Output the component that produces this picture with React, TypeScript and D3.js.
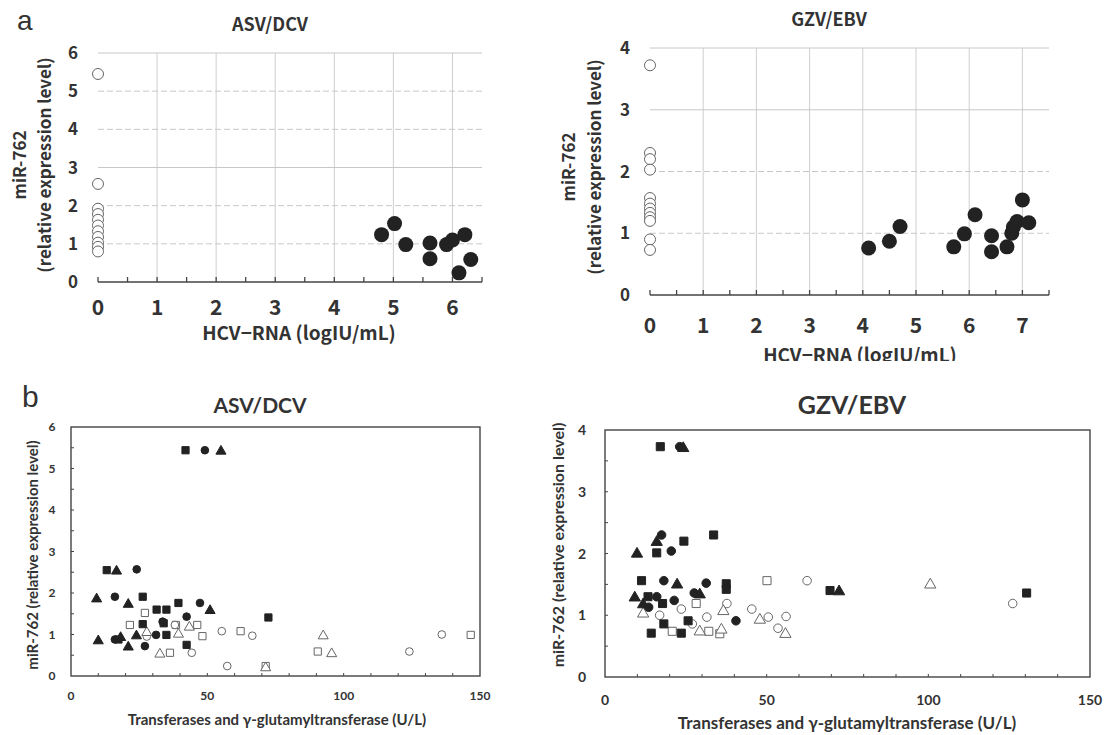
import React from "react";
import * as d3 from "d3";

// ---------- Panel a data ----------
const aTicksLeftX = [0, 1, 2, 3, 4, 5, 6];
const aTicksLeftY = [0, 1, 2, 3, 4, 5, 6];
const aTicksRightX = [0, 1, 2, 3, 4, 5, 6, 7];
const aTicksRightY = [0, 1, 2, 3, 4];

const aLeftAfterY = [5.45, 2.57, 1.92, 1.78, 1.63, 1.48, 1.33, 1.18, 1.03, 0.92, 0.8];
const aLeftBeforeX = [4.8, 5.02, 5.21, 5.62, 5.62, 5.9, 6.0, 6.21, 6.11, 6.31];
const aLeftBeforeY = [1.24, 1.53, 0.98, 1.02, 0.61, 0.98, 1.1, 1.24, 0.24, 0.59];

const aRightAfterY = [3.72, 2.3, 2.2, 2.03, 1.57, 1.48, 1.4, 1.33, 1.26, 1.2, 0.9, 0.73];
const aRightBeforeX = [4.11, 4.5, 4.7, 5.71, 5.91, 6.11, 6.42, 6.42, 6.71, 6.8, 6.83, 6.9, 7.0, 7.12];
const aRightBeforeY = [0.76, 0.87, 1.11, 0.78, 0.99, 1.3, 0.96, 0.7, 0.78, 1.0, 1.1, 1.19, 1.54, 1.17];

// ---------- Panel b data ----------
const bTicksX = [0, 50, 100, 150];
const bTicksLeftY = [0, 1, 2, 3, 4, 5, 6];
const bTicksRightY = [0, 1, 2, 3, 4];

// ASV/DCV
const bL_fSquare: [number, number][] = [
  [42, 5.44], [13.1, 2.55], [26.3, 1.91], [39.4, 1.76], [31.4, 1.6], [35, 1.6],
  [26.3, 1.25], [35, 0.99], [42.4, 0.75], [72.4, 1.41], [17.4, 0.88], [34, 1.27],
];
const bL_fCircle: [number, number][] = [
  [49.1, 5.44], [24.1, 2.57], [16.1, 1.91], [47.3, 1.76], [42.4, 1.43], [33.6, 1.31],
  [31.2, 0.99], [27.1, 0.72], [16.1, 0.88],
];
const bL_fTriangle: [number, number][] = [
  [55, 5.44], [16.7, 2.55], [9.4, 1.88], [21, 1.75], [51, 1.6], [10, 0.87],
  [21, 0.72], [24, 0.99], [18.2, 0.95],
];
const bL_oSquare: [number, number][] = [
  [27.1, 1.52], [21.6, 1.23], [38.5, 1.23], [46.3, 1.23], [48.2, 0.96], [62.2, 1.08],
  [36.3, 0.56], [90.5, 0.59], [146.6, 0.99], [71.4, 0.24],
];
const bL_oCircle: [number, number][] = [
  [55.3, 1.08], [66.5, 0.97], [44.3, 0.56], [57.3, 0.24], [124.1, 0.59], [136, 1.0],
  [38.1, 1.23], [27.8, 0.95],
];
const bL_oTriangle: [number, number][] = [
  [32.6, 0.55], [39.4, 1.03], [43.4, 1.2], [92.5, 0.99], [95.6, 0.56], [71.4, 0.22],
  [27.8, 1.07],
];

// GZV/EBV
const bR_fSquare: [number, number][] = [
  [17.1, 3.73], [33.6, 2.3], [24.4, 2.2], [16, 2.01], [11.3, 1.56], [37.5, 1.51],
  [37.5, 1.42], [69.6, 1.4], [130.4, 1.36], [14.3, 0.71], [23.6, 0.71], [18.2, 0.86],
  [25.7, 0.91], [13.3, 1.3], [17.8, 1.19],
];
const bR_fCircle: [number, number][] = [
  [23.1, 3.73], [17.5, 2.3], [20.5, 2.04], [18.2, 1.56], [31.3, 1.52], [27.6, 1.36],
  [40.5, 0.91], [16, 1.3], [21.4, 1.24], [13.5, 1.13],
];
const bR_fTriangle: [number, number][] = [
  [24.2, 3.72], [16, 2.2], [9.9, 2.01], [22.3, 1.51], [72.4, 1.4], [9.2, 1.3],
  [29.3, 1.35], [11.8, 1.19],
];
const bR_oSquare: [number, number][] = [
  [50.1, 1.56], [32.1, 0.74], [35.5, 0.7], [28.2, 1.19], [20.8, 0.74],
];
const bR_oCircle: [number, number][] = [
  [62.5, 1.56], [126.1, 1.19], [45.4, 1.1], [50.5, 0.97], [56, 0.98], [53.5, 0.79],
  [23.6, 1.1], [31.5, 0.97], [37.7, 1.19], [27, 0.86], [16.9, 1.0],
];
const bR_oTriangle: [number, number][] = [
  [100.6, 1.51], [47.9, 0.94], [55.8, 0.71], [11.8, 1.04], [29.3, 0.75], [36.6, 1.08],
  [36, 0.78],
];

const FONT_A = "'Noto Sans CJK JP', 'Noto Sans', sans-serif";
const FONT_B = "Lato, 'Open Sans', sans-serif";
const INK = "#333";

function PanelA(props: {
  id: string;
  x0: number; x1: number; y0: number; y1: number;
  xMax: number; yMax: number;
  xTicks: number[]; yTicks: number[];
  afterY: number[]; beforeX: number[]; beforeY: number[];
  title: string; titleX: number; titleY: number;
  yLabX1: number; yLabX2: number; yLabCY: number;
  xTickLabY: number; yTickLabX: number; xTitleX: number; xTitleY: number; clipY?: number;
}) {
  const p = props;
  const x = d3.scaleLinear().domain([0, p.xMax]).range([p.x0, p.x1]);
  const y = d3.scaleLinear().domain([0, p.yMax]).range([p.y0, p.y1]);
  const minor = d3.range(0, p.xMax + 0.01, 0.5);
  return (
    <g>
      {p.clipY !== undefined && (
        <defs>
          <clipPath id={"clip" + p.id}>
            <rect x={0} y={0} width={1106} height={p.clipY} />
          </clipPath>
        </defs>
      )}
      {p.xTicks.filter((t) => t > 0).map((t) => (
        <line key={"vg" + t} x1={x(t)} x2={x(t)} y1={y(0)} y2={y(p.yMax)} stroke="#cfcfcf" strokeWidth={1} />
      ))}
      {p.yTicks.filter((t) => t > 0).map((t) => (
        <line key={"hg" + t} x1={x(0)} x2={p.x1} y1={y(t)} y2={y(t)} stroke="#c8c8c8" strokeWidth={1}
          strokeDasharray={t === p.yMax || t === 3 ? undefined : "6,3"} />
      ))}
      <line x1={x(0)} x2={p.x1} y1={y(0)} y2={y(0)} stroke="#444" strokeWidth={1.6} />
      {minor.map((t) => (
        <line key={"mt" + t} x1={x(t)} x2={x(t)} y1={y(0)} y2={y(0) - 5} stroke="#444" strokeWidth={1.3} />
      ))}
      {p.yTicks.map((t) => (
        <text key={"yl" + t} x={p.yTickLabX} y={y(t)} dy="0.36em" textAnchor="middle"
          fontFamily={FONT_A} fontWeight={700} fontSize={17} fill={INK}>{t}</text>
      ))}
      {p.xTicks.map((t) => (
        <text key={"xl" + t} x={x(t)} y={p.xTickLabY} dy="0.36em" textAnchor="middle"
          fontFamily={FONT_A} fontWeight={700} fontSize={21} fill={INK}>{t}</text>
      ))}
      <text x={p.titleX} y={p.titleY} dy="0.36em" textAnchor="middle" fontFamily={FONT_A}
        fontWeight={700} fontSize={18} fill={INK}>{p.title}</text>
      <text x={p.xTitleX} y={p.xTitleY} dy="0.36em" textAnchor="middle" fontFamily={FONT_A}
        fontWeight={700} fontSize={19} fill={INK}
        clipPath={p.clipY !== undefined ? `url(#clip${p.id})` : undefined}>HCV−RNA (logIU/mL)</text>
      <text transform={`translate(${p.yLabX1},${p.yLabCY}) rotate(-90)`} dy="0.36em" textAnchor="middle"
        fontFamily={FONT_A} fontWeight={700} fontSize={17} fill={INK}>miR-762</text>
      <text transform={`translate(${p.yLabX2},${p.yLabCY}) rotate(-90)`} dy="0.36em" textAnchor="middle"
        fontFamily={FONT_A} fontWeight={700} fontSize={17} fill={INK}>(relative expression level)</text>
      {p.afterY.map((v, i) => (
        <circle key={"o" + i} cx={x(0)} cy={y(v)} r={5.5} fill="white" stroke="#666" strokeWidth={1} />
      ))}
      {p.beforeX.map((v, i) => (
        <circle key={"f" + i} cx={x(v)} cy={y(p.beforeY[i])} r={7.5} fill="#222" />
      ))}
    </g>
  );
}

function Markers(props: { pts: [number, number][]; kind: "square" | "circle" | "triangle"; filled: boolean;
  x: d3.ScaleLinear<number, number>; y: d3.ScaleLinear<number, number>; scale: number; }) {
  const { pts, kind, filled, x, y, scale } = props;
  const type = kind === "square" ? d3.symbolSquare : kind === "circle" ? d3.symbolCircle : d3.symbolTriangle;
  const size = (kind === "square" ? 52 : kind === "circle" ? 46 : 44) * scale;
  const path = d3.symbol().type(type).size(size)() as string;
  return (
    <g>
      {pts.map((p, i) => (
        <path key={i} d={path} transform={`translate(${x(p[0])},${y(p[1]) + (kind === "triangle" ? 1 : 0)})`}
          fill={filled ? "#222" : "white"} stroke={filled ? "#222" : "#666"} strokeWidth={1} />
      ))}
    </g>
  );
}

function PanelB(props: {
  x0: number; x1: number; y0: number; y1: number; yMax: number; yTicks: number[];
  title: string; titleX: number; titleY: number; titleSize: number;
  yLabX: number; yLabCY: number; yLabSize: number;
  yTickLabX: number; xTickLabY: number; xTitleX: number; xTitleY: number; xTitleSize: number;
  tickSize: number; markerScale: number;
  fSquare: [number, number][]; fCircle: [number, number][]; fTriangle: [number, number][];
  oSquare: [number, number][]; oCircle: [number, number][]; oTriangle: [number, number][];
}) {
  const p = props;
  const x = d3.scaleLinear().domain([0, 150]).range([p.x0, p.x1]);
  const y = d3.scaleLinear().domain([0, p.yMax]).range([p.y0, p.y1]);
  const xMinor = d3.range(10, 150, 10);
  const yMinor = d3.range(0.5, p.yMax, 0.5);
  return (
    <g>
      <rect x={p.x0} y={p.y1} width={p.x1 - p.x0} height={p.y0 - p.y1} fill="none" stroke="#444" strokeWidth={1.4} />
      {xMinor.map((t) => (
        <line key={"xm" + t} x1={x(t)} x2={x(t)} y1={p.y0} y2={p.y0 - 3} stroke="#444" strokeWidth={1} />
      ))}
      {yMinor.map((t) => (
        <line key={"ym" + t} x1={p.x0} x2={p.x0 + 3} y1={y(t)} y2={y(t)} stroke="#444" strokeWidth={1} />
      ))}
      {p.yTicks.map((t) => (
        <text key={"yl" + t} x={p.yTickLabX} y={y(t)} dy="0.36em" textAnchor="middle"
          fontFamily={FONT_B} fontWeight={700} fontSize={p.tickSize} fill={INK}>{t}</text>
      ))}
      {bTicksX.map((t) => (
        <text key={"xl" + t} x={x(t)} y={p.xTickLabY} dy="0.36em" textAnchor="middle"
          fontFamily={FONT_B} fontWeight={700} fontSize={p.tickSize} fill={INK}>{t}</text>
      ))}
      <text x={p.titleX} y={p.titleY} dy="0.36em" textAnchor="middle" fontFamily={FONT_B}
        fontWeight={700} fontSize={p.titleSize} fill={INK}>{p.title}</text>
      <text x={p.xTitleX} y={p.xTitleY} dy="0.36em" textAnchor="middle" fontFamily={FONT_B}
        fontWeight={700} fontSize={p.xTitleSize} fill={INK}>Transferases and γ-glutamyltransferase (U/L)</text>
      <text transform={`translate(${p.yLabX},${p.yLabCY}) rotate(-90)`} dy="0.36em" textAnchor="middle"
        fontFamily={FONT_B} fontWeight={700} fontSize={p.yLabSize} fill={INK}>miR-762 (relative expression level)</text>
      <Markers pts={p.oSquare} kind="square" filled={false} x={x} y={y} scale={p.markerScale} />
      <Markers pts={p.oCircle} kind="circle" filled={false} x={x} y={y} scale={p.markerScale} />
      <Markers pts={p.oTriangle} kind="triangle" filled={false} x={x} y={y} scale={p.markerScale} />
      <Markers pts={p.fSquare} kind="square" filled={true} x={x} y={y} scale={p.markerScale} />
      <Markers pts={p.fCircle} kind="circle" filled={true} x={x} y={y} scale={p.markerScale} />
      <Markers pts={p.fTriangle} kind="triangle" filled={true} x={x} y={y} scale={p.markerScale} />
    </g>
  );
}

export default function App() {
  return (
    <svg width={1106} height={735} viewBox="0 0 1106 735"
      style={{ position: "absolute", left: 0, top: 0, background: "white" }}>
      <rect x={0} y={0} width={1106} height={735} fill="white" />
      <text x={17} y={30} fontFamily="'Liberation Sans', Arial, sans-serif" fontSize={28} fill={INK}>a</text>
      <text x={22} y={407} fontFamily="'Liberation Sans', Arial, sans-serif" fontSize={30} fill={INK}>b</text>

      <PanelA id="L" x0={98} x1={482} y0={282} y1={53} xMax={6.5} yMax={6}
        xTicks={aTicksLeftX} yTicks={aTicksLeftY}
        afterY={aLeftAfterY} beforeX={aLeftBeforeX} beforeY={aLeftBeforeY}
        title="ASV/DCV" titleX={270} titleY={25}
        yLabX1={20} yLabX2={45} yLabCY={165}
        xTickLabY={307} yTickLabX={73} xTitleX={299} xTitleY={333} />

      <PanelA id="R" x0={650} x1={1049} y0={295} y1={48} xMax={7.5} yMax={4}
        xTicks={aTicksRightX} yTicks={aTicksRightY}
        afterY={aRightAfterY} beforeX={aRightBeforeX} beforeY={aRightBeforeY}
        title="GZV/EBV" titleX={829} titleY={20}
        yLabX1={569} yLabX2={595} yLabCY={167}
        xTickLabY={325} yTickLabX={625} xTitleX={860} xTitleY={355} clipY={361} />

      <PanelB x0={71} x1={480} y0={676} y1={427} yMax={6} yTicks={bTicksLeftY}
        title="ASV/DCV" titleX={260} titleY={405} titleSize={21}
        yLabX={33} yLabCY={555} yLabSize={15}
        yTickLabX={52} xTickLabY={696} xTitleX={277} xTitleY={720} xTitleSize={15}
        tickSize={12} markerScale={1}
        fSquare={bL_fSquare} fCircle={bL_fCircle} fTriangle={bL_fTriangle}
        oSquare={bL_oSquare} oCircle={bL_oCircle} oTriangle={bL_oTriangle} />

      <PanelB x0={605} x1={1090} y0={677} y1={430} yMax={4} yTicks={bTicksRightY}
        title="GZV/EBV" titleX={852} titleY={405} titleSize={25}
        yLabX={558} yLabCY={545} yLabSize={16}
        yTickLabX={582} xTickLabY={700} xTitleX={847} xTitleY={723} xTitleSize={17}
        tickSize={14} markerScale={1.25}
        fSquare={bR_fSquare} fCircle={bR_fCircle} fTriangle={bR_fTriangle}
        oSquare={bR_oSquare} oCircle={bR_oCircle} oTriangle={bR_oTriangle} />
    </svg>
  );
}
